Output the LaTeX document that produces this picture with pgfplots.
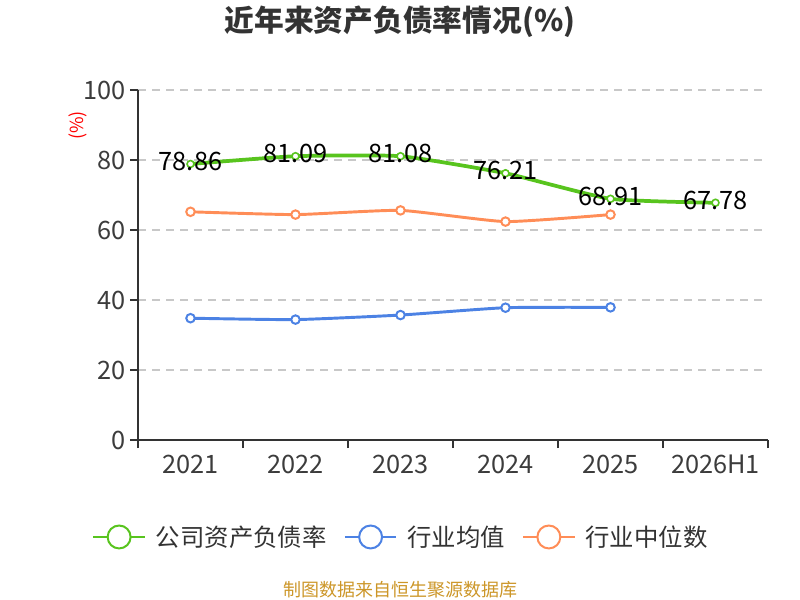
\documentclass[border=0pt]{standalone}
\usepackage{fontspec}
\setmainfont{Noto Sans CJK SC}
\usepackage{pgfplots}
\pgfplotsset{compat=1.18}
\definecolor{cgreen}{RGB}{88,196,30}
\definecolor{cblue}{RGB}{76,130,228}
\definecolor{corange}{RGB}{255,141,87}
\definecolor{axisc}{RGB}{51,51,51}
\definecolor{labelc}{RGB}{60,60,60}
\definecolor{gridc}{RGB}{200,200,200}
\definecolor{footc}{RGB}{204,150,40}
\begin{document}
\begin{tikzpicture}
\path[use as bounding box] (0,0) rectangle (600pt,450pt);
\node[font=\fontsize{22.3}{22.3}\selectfont\bfseries, text=axisc] at (300pt,433.5pt) {近年来资产负债率情况(\%)};
\node[font=\fontsize{13.5}{13.5}\selectfont, text=red, rotate=90] at (58.5pt,356pt) {(\%)};
\node[font=\fontsize{13.5}{13.5}\selectfont, text=footc] at (300pt,7.5pt) {制图数据来自恒生聚源数据库};
\begin{axis}[
  at={(103.5pt,120pt)}, anchor=south west,
  width=472.5pt, height=262.5pt, scale only axis,
  xmin=-0.5, xmax=5.5, ymin=0, ymax=100,
  axis x line*=bottom, axis y line*=left,
  axis line style={color=axisc, line width=1.1pt, -},
  xtick={0,...,5},
  xticklabels={2021,2022,2023,2024,2025,2026H1},
  major x tick style={draw=none},
  minor xtick={-0.5,0.5,1.5,2.5,3.5,4.5,5.5},
  ytick={0,20,40,60,80,100},
  tick align=outside,
  major tick length=6pt, minor tick length=6pt,
  every tick/.style={color=axisc, line width=1.1pt},
  ymajorgrids,
  grid style={color=gridc, line width=0.9pt, dash pattern=on 6pt off 4.5pt},
  tick label style={font=\fontsize{19}{19}\selectfont, text=labelc},
  xticklabel style={yshift=-2pt},
  /pgf/number format/assume math mode=true,
  clip=false,
  legend columns=3,
  legend style={at={(axis description cs:0.4180,-0.2771)}, anchor=center,
    draw=none, fill=none, font=\fontsize{18.3}{18.3}\selectfont, text=axisc,
    /tikz/every even column/.append style={column sep=11pt},
    /tikz/every odd column/.append style={column sep=5.5pt},
    legend cell align=left},
  legend image code/.code={
    \draw[#1, line width=1.5pt] (0pt,0pt) -- (38.5pt,0pt);
    \draw[#1, line width=1.5pt, fill=white] (19.25pt,0pt) circle (8.6pt);
  },
]
\addlegendimage{cgreen}
\addlegendentry{公司资产负债率}
\addlegendimage{cblue}
\addlegendentry{行业均值}
\addlegendimage{corange}
\addlegendentry{行业中位数}

\addplot[forget plot, corange, line width=2.2pt, smooth, tension=0.3,
  mark=*, mark size=3.2pt, mark options={fill=white, draw=corange, line width=1.5pt}]
  coordinates {(0,65.2) (1,64.4) (2,65.6) (3,62.4) (4,64.4)};
\addplot[forget plot, cblue, line width=2.2pt, smooth, tension=0.3,
  mark=*, mark size=3.2pt, mark options={fill=white, draw=cblue, line width=1.5pt}]
  coordinates {(0,34.8) (1,34.4) (2,35.7) (3,37.8) (4,37.9)};
\addplot[forget plot, cgreen, line width=2.8pt, smooth, tension=0.3,
  mark=*, mark size=2.6pt, mark options={fill=white, draw=cgreen, line width=1.2pt},
  nodes near coords, point meta=explicit symbolic,
  every node near coord/.append style={anchor=center, yshift=2pt,
    font=\fontsize{19}{19}\selectfont, text=black}]
  coordinates {(0,78.86) [78.86] (1,81.09) [81.09] (2,81.08) [81.08]
               (3,76.21) [76.21] (4,68.91) [68.91] (5,67.78) [67.78]};
\end{axis}
\end{tikzpicture}
\end{document}
